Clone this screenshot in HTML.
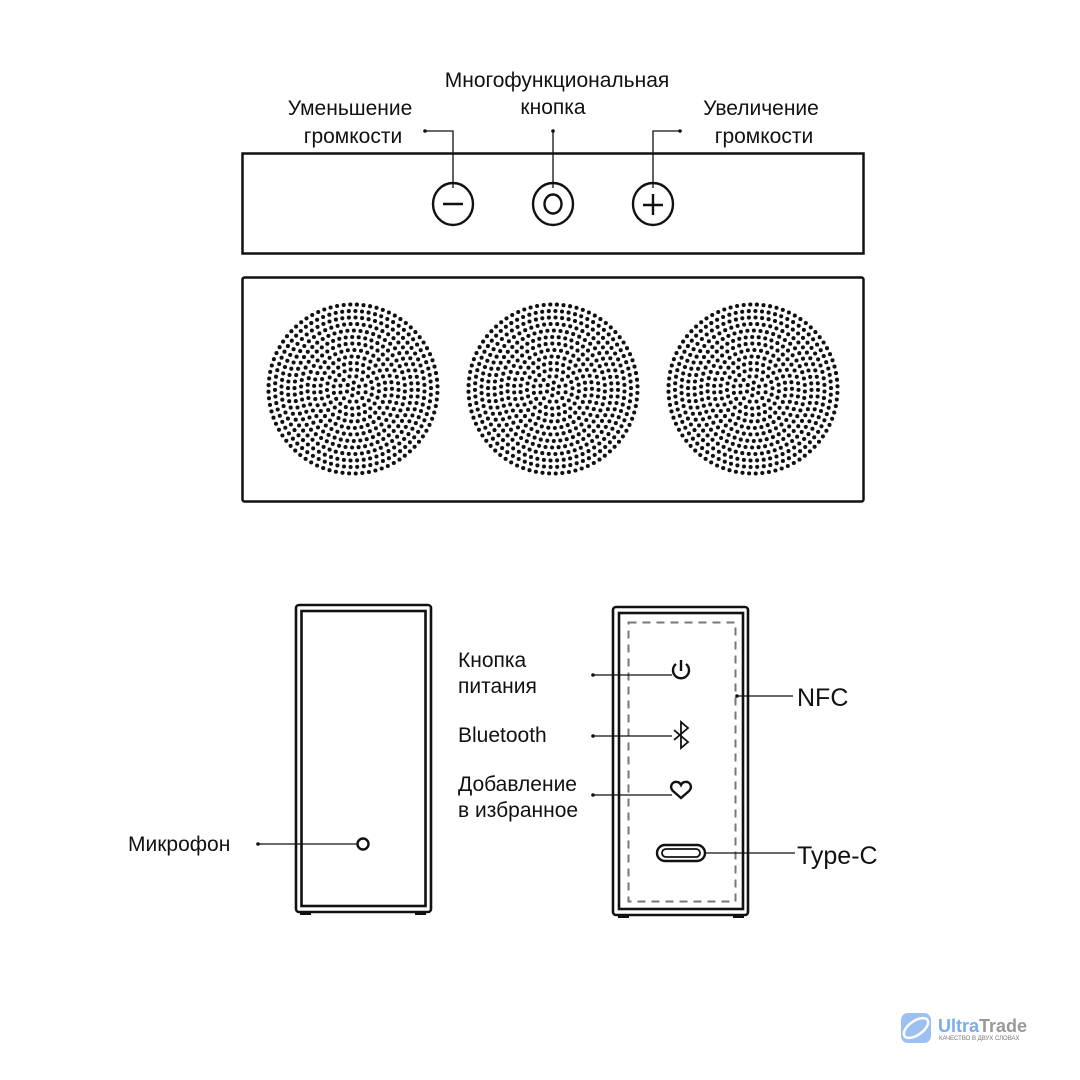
<!DOCTYPE html>
<html><head><meta charset="utf-8">
<style>
html,body{margin:0;padding:0;background:#fff;width:1080px;height:1080px;overflow:hidden}
text{font-family:"Liberation Sans",sans-serif;fill:#111}
</style></head>
<body>
<svg id="s" width="1080" height="1080" viewBox="0 0 1080 1080" xmlns="http://www.w3.org/2000/svg">
<rect width="1080" height="1080" fill="#fff"/>
<g fill="none" stroke="#111">
<rect x="242.5" y="153.5" width="621" height="100" stroke-width="2.5"/>
<rect x="242.5" y="277.5" width="621" height="224" rx="2" stroke-width="2.5"/>
<ellipse cx="453" cy="204" rx="20" ry="21" stroke-width="2.4"/>
<line x1="443" y1="204" x2="463" y2="204" stroke-width="2.4"/>
<ellipse cx="553" cy="204" rx="20" ry="21" stroke-width="2.4"/>
<ellipse cx="553" cy="204" rx="8.5" ry="9.5" stroke-width="2.4"/>
<ellipse cx="653" cy="204" rx="20" ry="21" stroke-width="2.4"/>
<line x1="643" y1="205" x2="663" y2="205" stroke-width="2.4"/>
<line x1="653" y1="194" x2="653" y2="215" stroke-width="2.4"/>
<polyline points="425,131 453,131 453,188" stroke-width="1.3"/>
<polyline points="553,131 553,188" stroke-width="1.3"/>
<polyline points="680,131 653,131 653,188" stroke-width="1.3"/>
<rect x="296" y="605" width="135" height="307" rx="3" stroke-width="2.6"/>
<rect x="301.5" y="611" width="124" height="295" stroke-width="2.6"/>
<line x1="258" y1="844" x2="357" y2="844" stroke-width="1.3"/>
<circle cx="363" cy="844" r="5.5" stroke-width="2.4"/>
<rect x="613" y="607" width="135" height="308" rx="3" stroke-width="2.6"/>
<rect x="619" y="613" width="124" height="296" stroke-width="2.6"/>
<rect x="628.5" y="622.5" width="107" height="279" stroke="#777" stroke-width="2" stroke-dasharray="8,6"/>
<line x1="593" y1="675" x2="672" y2="675" stroke-width="1.3"/>
<path d="M676,664 A8,8 0 1 0 686,664" stroke-width="2.4"/>
<line x1="681" y1="660" x2="681" y2="671" stroke-width="2.4"/>
<line x1="593" y1="736" x2="672" y2="736" stroke-width="1.3"/>
<path d="M674,730 L688,742 L681,748 L681,722 L688,728 L674,740" stroke-width="1.8"/>
<line x1="593" y1="795" x2="672" y2="795" stroke-width="1.3"/>
<path d="M681,798 L673,791 C669,787 672,781 677,782 C679,782 680,783 681,785 C682,783 683,782 685,782 C690,781 693,787 689,791 Z" stroke-width="2.4"/>
<rect x="657" y="845" width="48" height="16" rx="8" stroke-width="2.4"/>
<rect x="662" y="849" width="38" height="8" rx="4" stroke-width="1.8"/>
<line x1="705" y1="853" x2="795" y2="853" stroke-width="1.3"/>
<line x1="737" y1="696" x2="793" y2="696" stroke-width="1.3"/>
</g>
<g fill="#111">
<rect x="300" y="911" width="11" height="4"/><rect x="415" y="911" width="11" height="4"/>
<rect x="618" y="914" width="11" height="4"/><rect x="733" y="914" width="11" height="4"/>
<circle cx="425" cy="131" r="1.8"/><circle cx="553" cy="131" r="1.8"/><circle cx="680" cy="131" r="1.8"/>
<circle cx="258" cy="844" r="1.8"/><circle cx="593" cy="675" r="1.8"/><circle cx="593" cy="736" r="1.8"/><circle cx="593" cy="795" r="1.8"/><circle cx="737" cy="696" r="1.8"/>
</g>
<g id="dots" fill="#111"></g>
<g font-size="21">
<text x="557" y="87" text-anchor="middle">Многофункциональная</text>
<text x="553" y="114" text-anchor="middle">кнопка</text>
<text x="350" y="115" text-anchor="middle">Уменьшение</text>
<text x="353" y="143" text-anchor="middle">громкости</text>
<text x="761" y="115" text-anchor="middle">Увеличение</text>
<text x="764" y="143" text-anchor="middle">громкости</text>
<text x="458" y="667" font-size="21">Кнопка</text>
<text x="458" y="693" font-size="21">питания</text>
<text x="458" y="742" font-size="21">Bluetooth</text>
<text x="458" y="791" font-size="21">Добавление</text>
<text x="458" y="817" font-size="21">в избранное</text>
<text x="128" y="851" font-size="21">Микрофон</text>
<text x="797" y="706" font-size="25">NFC</text>
<text x="797" y="864" font-size="25">Type-C</text>
</g>
<g>
<rect x="901" y="1013" width="30" height="30" rx="7" fill="#9cc0f2"/>
<ellipse cx="916" cy="1028" rx="14" ry="7" fill="none" stroke="#fff" stroke-width="2.5" transform="rotate(-35 916 1028)"/>
<text x="938" y="1032" font-size="18" font-weight="bold" style="fill:#7aaaf0">Ultra<tspan style="fill:#999">Trade</tspan></text>
<text x="939" y="1040" font-size="6" style="fill:#777">КАЧЕСТВО В ДВУХ СЛОВАХ</text>
</g>
</svg>
<script>
var g=document.getElementById('dots'),h='';
[353,553,753].forEach(function(cx){var cy=389;
h+='<circle cx="'+cx+'" cy="'+cy+'" r="2"/>';
for(var r=6.5;r<86;r+=6.5){var n=Math.round(2*Math.PI*r/6.6);
for(var i=0;i<n;i++){var a=2*Math.PI*i/n+r*0.1;
h+='<circle cx="'+(cx+r*Math.cos(a)).toFixed(1)+'" cy="'+(cy+r*Math.sin(a)).toFixed(1)+'" r="2.05"/>';}}});
g.innerHTML=h;
</script>
</body></html>
